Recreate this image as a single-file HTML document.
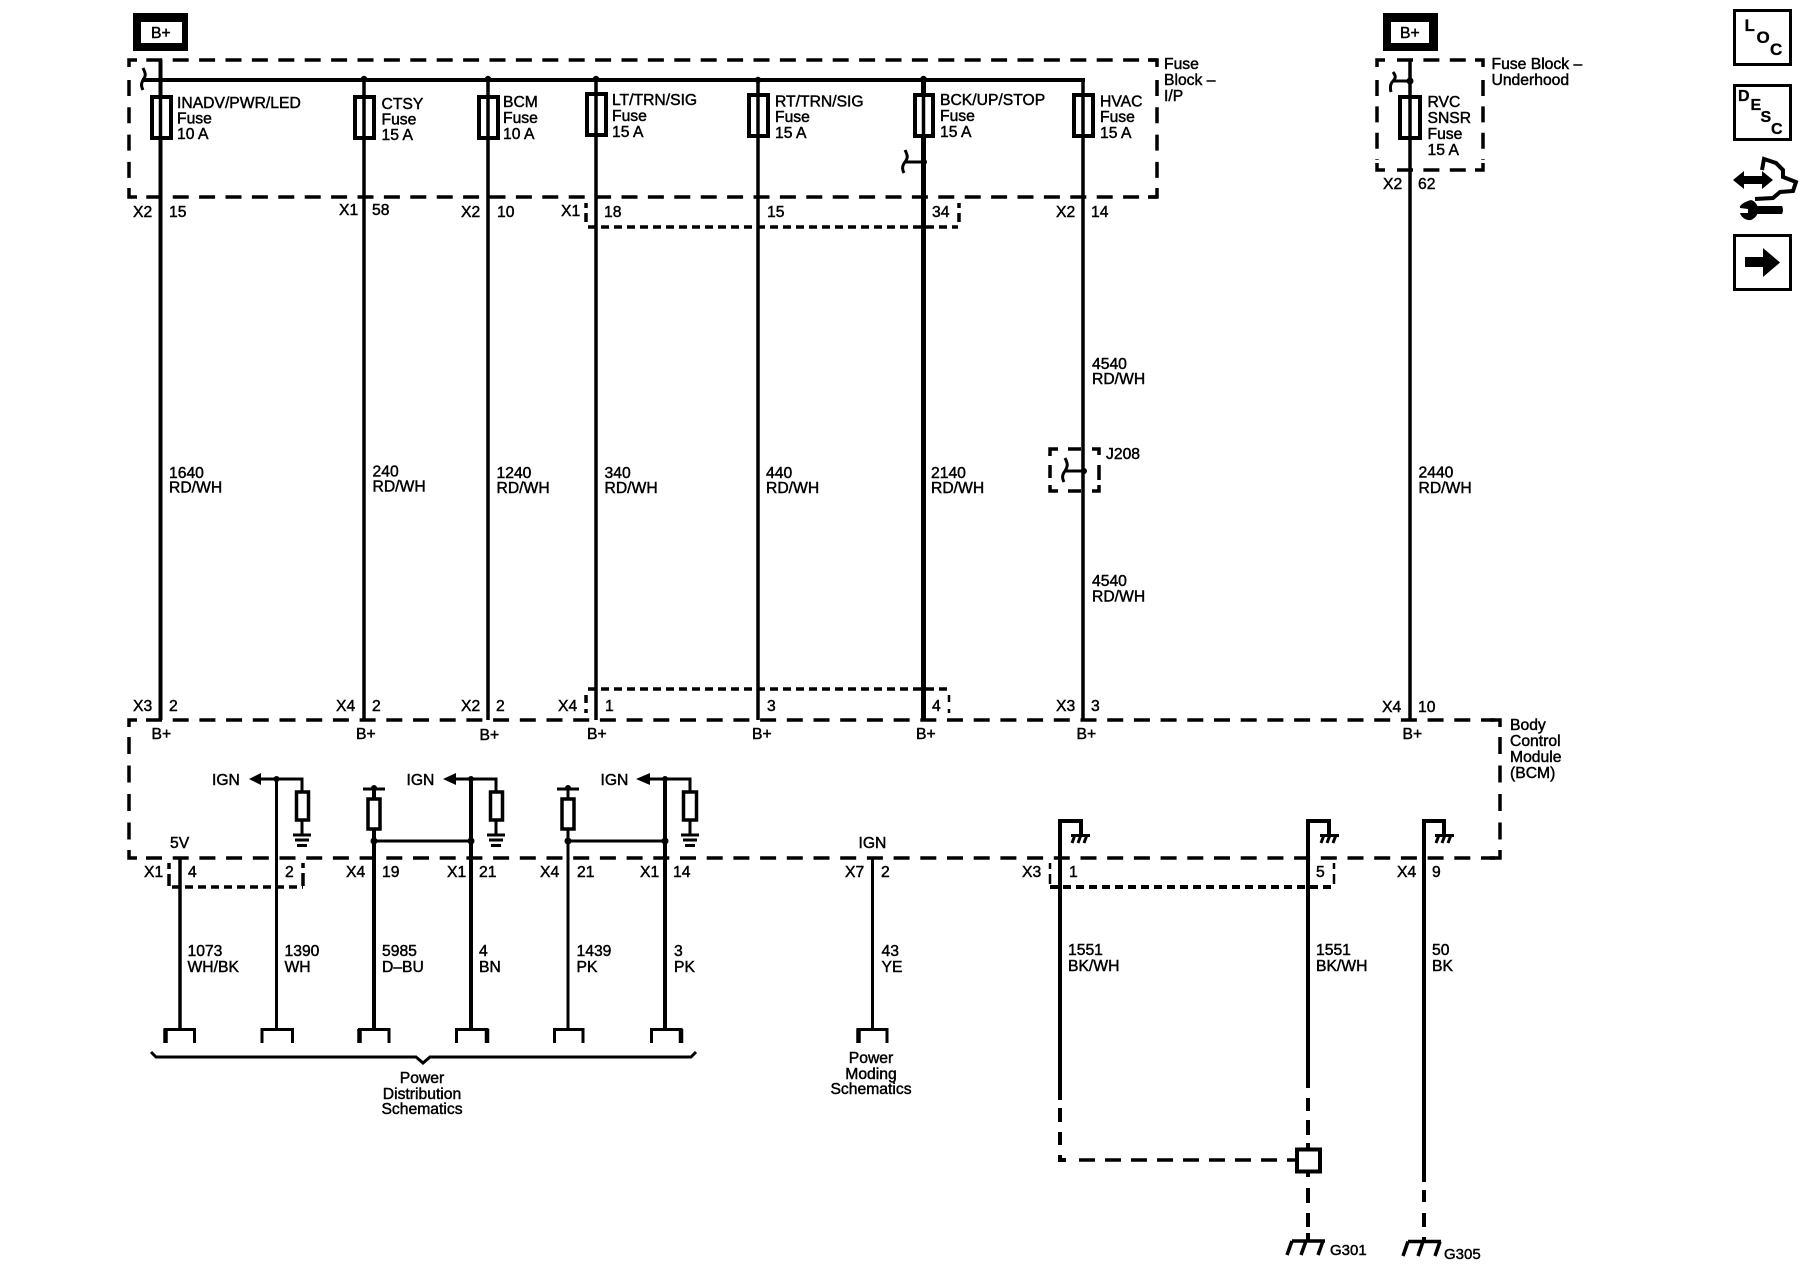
<!DOCTYPE html>
<html><head><meta charset="utf-8"><style>
html,body{margin:0;padding:0;background:#fff}
svg{display:block}
text{font-family:"Liberation Sans",sans-serif;font-size:15.7px;fill:#000;stroke:#000;stroke-width:.45}
.w{fill:none;stroke:#000;stroke-width:3.5}
.d{fill:none;stroke:#000;stroke-width:3.5;stroke-dasharray:16 10.4}
.i{fill:none;stroke:#000;stroke-width:3.5;stroke-dasharray:8 5}
.f{fill:#fff;stroke:#000;stroke-width:4}
.c{fill:none;stroke:#000;stroke-width:3}
.m text{font-weight:bold;stroke-width:.3;font-size:16px}
.mid{text-anchor:middle}
</style></head><body>
<svg width="1800" height="1280" viewBox="0 0 1800 1280" xmlns="http://www.w3.org/2000/svg">
<rect width="1800" height="1280" fill="#fff"/>

<!-- B+ boxes -->
<rect x="133" y="13" width="55" height="38" fill="#000"/><rect x="141" y="22" width="41" height="21" fill="#fff"/>
<text x="151" y="38">B+</text>
<rect x="1383" y="13" width="55" height="38" fill="#000"/><rect x="1391" y="22" width="38" height="21" fill="#fff"/>
<text x="1400" y="38">B+</text>

<!-- fuse block I/P dashed -->
<g class="d">
<path d="M146.3 60H1157" />
<path d="M146.3 197H1157" />
<path d="M129 80V188" style="stroke-dasharray:16 11.3"/>
<path d="M1157 80V188" style="stroke-dasharray:16 11.3"/>
</g>
<path class="w" d="M137 60H129V67M129 188V197H137M1148 60H1157V67M1157 188V197H1148"/>

<!-- underhood dashed -->
<g class="d">
<path d="M1397 60H1470"/><path d="M1397 170H1470"/>
<path d="M1377 80V160"/><path d="M1483 80V160"/>
</g>
<path class="w" d="M1385 60H1377V67M1377 163V170H1385M1475 60H1483V67M1483 163V170H1475"/>

<!-- top bus -->
<path d="M142 80H1085" stroke="#000" stroke-width="4" fill="none"/>
<path d="M1083 80V720" class="w"/>
<path d="M160.5 60V720" class="w" style="stroke-width:4"/>
<path d="M364 78V720" class="w"/>
<path d="M488 78V720" class="w"/>
<path d="M596 78V720" class="w"/>
<path d="M758 78V720" class="w"/>
<path d="M923.5 78V720" class="w" style="stroke-width:5"/>
<path d="M1410 60V720" class="w"/>
<g fill="#000"><circle cx="160.5" cy="80" r="3"/><circle cx="364" cy="79" r="3.2"/><circle cx="488" cy="79" r="3.2"/><circle cx="596" cy="79" r="3.2"/><circle cx="758" cy="80" r="3.2"/><circle cx="923.5" cy="79" r="3.2"/><circle cx="1410" cy="81" r="3.5"/><circle cx="924" cy="162" r="3"/><circle cx="1084" cy="471" r="3"/></g>

<!-- hooks -->
<path d="M143 68C146 74 146 76 143 80C141 84 141 86 143 90" class="w" style="stroke-width:3"/>
<path d="M1393 72C1396 76 1396 78 1393 81C1390 84 1390 88 1391 92M1393 81H1410" class="w" style="stroke-width:3"/>
<path d="M905 150C908 156 908 158 905 162C902 166 902 169 904 173M905 162H924" class="w" style="stroke-width:3"/>
<path d="M1065 458C1068 464 1068 466 1065 471C1062 475 1062 478 1064 482M1065 471H1084" class="w" style="stroke-width:3"/>

<!-- fuses -->
<g class="f">
<rect x="152" y="97" width="19" height="41"/>
<rect x="355" y="97" width="19" height="41"/>
<rect x="479" y="97" width="19" height="41"/>
<rect x="587" y="94" width="19" height="41"/>
<rect x="749" y="95" width="19" height="41"/>
<rect x="915" y="95" width="18" height="41"/>
<rect x="1074" y="95" width="19" height="41"/>
<rect x="1400" y="97" width="20" height="41"/>
</g>
<g class="w"><path d="M160.5 95V140M364 95V140M488 95V140M596 92V137M758 93V138M923.5 93V138M1083 93V138M1410 95V140"/></g>

<!-- fuse labels -->
<text x="177" y="108">INADV/PWR/LED</text><text x="177" y="123.5">Fuse</text><text x="177" y="139">10 A</text>
<text x="381.5" y="109">CTSY</text><text x="381.5" y="124.5">Fuse</text><text x="381.5" y="140">15 A</text>
<text x="503" y="107">BCM</text><text x="503" y="123">Fuse</text><text x="503" y="139">10 A</text>
<text x="612" y="105">LT/TRN/SIG</text><text x="612" y="121">Fuse</text><text x="612" y="137">15 A</text>
<text x="775" y="106.5">RT/TRN/SIG</text><text x="775" y="122">Fuse</text><text x="775" y="138">15 A</text>
<text x="940" y="105">BCK/UP/STOP</text><text x="940" y="121">Fuse</text><text x="940" y="137">15 A</text>
<text x="1100" y="106.5">HVAC</text><text x="1100" y="122">Fuse</text><text x="1100" y="138">15 A</text>
<text x="1164" y="69">Fuse</text><text x="1164" y="85">Block –</text><text x="1164" y="101">I/P</text>
<text x="1427.5" y="107">RVC</text><text x="1427.5" y="123">SNSR</text><text x="1427.5" y="139">Fuse</text><text x="1427.5" y="155">15 A</text>
<text x="1491.5" y="69">Fuse Block –</text><text x="1491.5" y="85">Underhood</text>

<!-- pin labels upper -->
<text x="133" y="217">X2</text><text x="169" y="217">15</text>
<text x="339" y="215">X1</text><text x="372" y="215">58</text>
<text x="461" y="217">X2</text><text x="497" y="217">10</text>
<text x="561" y="216">X1</text><text x="604" y="217">18</text>
<text x="767" y="217">15</text><text x="932" y="217">34</text>
<text x="1056" y="217">X2</text><text x="1091" y="217">14</text>
<text x="1383" y="189">X2</text><text x="1418" y="189">62</text>

<!-- interconnect upper -->
<path class="i" d="M588 227H958"/>
<path class="w" d="M586 203V208M586 213V222M959 203V208M959 213V222"/>
<path class="i" d="M588 689H950"/>
<path class="w" d="M586 695V703M586 709V713" />
<path class="w" style="stroke-width:2.5" d="M949 695V702M949 709V713"/>

<!-- wire labels -->
<text x="169" y="478">1640</text><text x="169" y="492.5">RD/WH</text>
<text x="372.5" y="476.5">240</text><text x="372.5" y="491.5">RD/WH</text>
<text x="496.5" y="478">1240</text><text x="496.5" y="493">RD/WH</text>
<text x="604.5" y="478">340</text><text x="604.5" y="493">RD/WH</text>
<text x="766" y="478">440</text><text x="766" y="493">RD/WH</text>
<text x="931" y="478">2140</text><text x="931" y="493">RD/WH</text>
<text x="1092" y="369">4540</text><text x="1092" y="384">RD/WH</text>
<text x="1092" y="586">4540</text><text x="1092" y="601.5">RD/WH</text>
<text x="1418.5" y="477.5">2440</text><text x="1418.5" y="493">RD/WH</text>
<text x="1106" y="459">J208</text>

<!-- J208 box -->
<path class="w" d="M1050 456V449H1058M1068 449H1081M1092 449H1099V455M1099 465V480M1050 465V478M1050 485V491H1058M1068 491H1081M1092 491H1099V485" />

<!-- pin labels lower-top -->
<text x="133" y="711">X3</text><text x="169" y="711">2</text>
<text x="336" y="711">X4</text><text x="372" y="711">2</text>
<text x="461" y="711">X2</text><text x="496" y="711">2</text>
<text x="558" y="711">X4</text><text x="605" y="711">1</text>
<text x="767" y="711">3</text><text x="932" y="711">4</text>
<text x="1056" y="711">X3</text><text x="1091" y="711">3</text>
<text x="1382" y="712">X4</text><text x="1418" y="712">10</text>

<!-- BCM dashed -->
<g class="d">
<path d="M146 720H1495" style="stroke-dasharray:16 10.7"/>
<path d="M146 858H1495" style="stroke-dasharray:16 10.7"/>
<path d="M129 737V845" style="stroke-dasharray:17 11.5"/>
<path d="M1500 737V845" style="stroke-dasharray:17 11.5"/>
</g>
<path class="w" d="M137 720H129V727M129 850V858H137M1490 720H1500V727M1500 850V858H1490"/>

<!-- B+ labels -->
<text x="151.5" y="739">B+</text><text x="356" y="739">B+</text><text x="479.5" y="740">B+</text><text x="587" y="739">B+</text><text x="752" y="739">B+</text><text x="916" y="739">B+</text><text x="1076.5" y="739">B+</text><text x="1402.5" y="739">B+</text>

<!-- BCM labels -->
<text x="1510" y="730">Body</text><text x="1510" y="746">Control</text><text x="1510" y="762">Module</text><text x="1510" y="778">(BCM)</text>

<!-- IGN groups -->
<text x="212" y="785">IGN</text><text x="406.5" y="785">IGN</text><text x="600.5" y="785">IGN</text>
<g fill="#000"><path d="M249 779L261 773V785Z"/><path d="M443 779L456 773V785Z"/><path d="M636 779L650 773V785Z"/></g>
<path class="w" style="stroke-width:3" d="M258 779H302V791M453 779H496V791M647 779H690V791"/>
<g class="w" style="stroke-width:3.5">
<path d="M180 858V1028"/>
<path d="M276.5 779V1028" style="stroke-width:3"/>
<path d="M374 790V1028" style="stroke-width:4"/>
<path d="M471 779V1028" style="stroke-width:4"/>
<path d="M568 790V1028" style="stroke-width:3"/>
<path d="M665 779V1028" style="stroke-width:4"/>
<path d="M872.5 858V1028" style="stroke-width:3"/>
</g>
<!-- resistors -->
<g class="f" style="stroke-width:3.5">
<rect x="296.5" y="792" width="12" height="28"/>
<rect x="490.5" y="792" width="12" height="28"/>
<rect x="683.5" y="792" width="13" height="28"/>
<rect x="368" y="799" width="12" height="30"/>
<rect x="562" y="799" width="12" height="30"/>
</g>
<path class="w" style="stroke-width:3" d="M302 820V835M496 820V835M690 820V835M363 789H385M557 789H579M374 841H471M568 841H665" />
<g fill="#000"><circle cx="276.5" cy="779" r="3"/><circle cx="471" cy="779" r="3"/><circle cx="665" cy="779" r="3"/><circle cx="374" cy="788" r="3"/><circle cx="568" cy="788" r="3"/><circle cx="374" cy="841" r="3.5"/><circle cx="471" cy="841" r="3.5"/><circle cx="568" cy="841" r="3.5"/><circle cx="665" cy="841" r="3.5"/></g>
<!-- grounds -->
<g class="w" style="stroke-width:3">
<path d="M293 835H311M295 840H309M297 845.5H307"/>
<path d="M487 835H505M489 840H503M491 845.5H501"/>
<path d="M681 835H699M683 840H697M685 845.5H695"/>
</g>
<text x="170" y="848">5V</text><text x="858.5" y="848">IGN</text>

<!-- interconnect lower -->
<path class="i" d="M172 887H303"/>
<path class="w" d="M169 863V869M169 874V886M303 863V868M303 873V886"/>
<path class="i" d="M1050 887H1334" style="stroke-width:4"/>
<path class="w" style="stroke-width:2.5" d="M1050 863V869M1050 874V884M1334 863V869M1334 874V884"/>

<!-- pin labels lower -->
<text x="144" y="877">X1</text><text x="188" y="877">4</text><text x="285" y="877">2</text>
<text x="346" y="877">X4</text><text x="382" y="877">19</text>
<text x="447" y="877">X1</text><text x="479" y="877">21</text>
<text x="540" y="877">X4</text><text x="577" y="877">21</text>
<text x="640" y="877">X1</text><text x="673" y="877">14</text>
<text x="845" y="877">X7</text><text x="881" y="877">2</text>
<text x="1022" y="877">X3</text><text x="1069" y="877">1</text><text x="1316" y="877">5</text>
<text x="1397" y="877">X4</text><text x="1432" y="877">9</text>

<!-- lower wire labels -->
<text x="187.5" y="956">1073</text><text x="187.5" y="972">WH/BK</text>
<text x="284.5" y="956">1390</text><text x="284.5" y="972">WH</text>
<text x="382" y="956">5985</text><text x="382" y="972">D–BU</text>
<text x="479" y="956">4</text><text x="479" y="972">BN</text>
<text x="576.5" y="956">1439</text><text x="576.5" y="972">PK</text>
<text x="674" y="956">3</text><text x="674" y="972">PK</text>
<text x="881.5" y="956">43</text><text x="881.5" y="972">YE</text>
<text x="1068" y="955">1551</text><text x="1068" y="971">BK/WH</text>
<text x="1316" y="955">1551</text><text x="1316" y="971">BK/WH</text>
<text x="1432" y="955">50</text><text x="1432" y="971">BK</text>

<!-- connectors -->
<g class="c">
<path d="M165 1043V1029.5H194.5V1043M262 1043V1029.5H292.5V1043M359.5 1043V1029.5H389V1043M456.5 1043V1029.5H487V1043M554.5 1043V1029.5H583V1043M651.5 1043V1029.5H681V1043M858 1043V1029.5H887V1043"/>
<path style="stroke-width:4.5" d="M165.5 1029V1043M359.5 1029V1043M487 1029V1043M681 1029V1043M858.5 1029V1043"/>
</g>
<!-- brace -->
<path d="M151 1052L156 1057H416L423 1063L430 1057H691L696 1052" class="w" style="stroke-width:3"/>
<text class="mid" x="422" y="1083">Power</text><text class="mid" x="422" y="1099">Distribution</text><text class="mid" x="422" y="1114">Schematics</text>
<text class="mid" x="871" y="1063">Power</text><text class="mid" x="871" y="1079">Moding</text><text class="mid" x="871" y="1094">Schematics</text>

<!-- ground stubs -->
<path class="w" style="stroke-width:4" d="M1060 1100V821H1081V835M1308 1088V821H1329V835M1424 1182V821H1444V835"/>
<path class="w" style="stroke-width:3" d="M1071 835.5H1090M1075 835L1072 843M1081 835L1078 843M1087 835L1084 843M1320 835.5H1339M1324 835L1321 843M1330 835L1327 843M1336 835L1333 843M1435 835.5H1454M1439 835L1436 843M1445 835L1442 843M1451 835L1448 843"/>

<!-- lower dashed -->
<path class="w" style="stroke-width:4" d="M1060 1108V1122M1060 1132V1145M1060 1155V1160H1066M1308 1098V1111M1308 1120V1135M1308 1143V1148M1308 1172V1177M1308 1188V1203M1308 1213V1227M1308 1233V1241M1424 1190V1202M1424 1213V1227M1424 1237V1241"/>
<path class="w" style="stroke-width:3.5;stroke-dasharray:16 10" d="M1079 1160H1296"/>
<rect x="1297" y="1149.5" width="23" height="22" fill="#fff" stroke="#000" stroke-width="4"/>
<!-- chassis grounds -->
<path class="w" style="stroke-width:3.5" d="M1292 1241H1325M1292 1241L1287 1255M1306 1241L1301 1255M1323 1241L1318 1255M1408 1241.5H1441M1408 1241.5L1403 1256M1423 1241.5L1418 1256M1440 1241.5L1435 1256"/>
<text x="1330" y="1255" style="font-size:15px">G301</text>
<text x="1444" y="1259" style="font-size:15px">G305</text>

<!-- side icons -->
<rect x="1734.5" y="10.5" width="56" height="54" fill="none" stroke="#000" stroke-width="3"/>
<rect x="1734.5" y="85.5" width="56" height="54" fill="none" stroke="#000" stroke-width="3"/>
<rect x="1734.5" y="235.5" width="56" height="54" fill="none" stroke="#000" stroke-width="3"/>
<g class="m">
<text x="1744.5" y="31" style="font-size:17px">L</text><text x="1756.5" y="43" style="font-size:17px">O</text><text x="1770" y="55" style="font-size:17px">C</text>
<text x="1738" y="101">D</text><text x="1750.5" y="110">E</text><text x="1760.5" y="122">S</text><text x="1771" y="134">C</text>
</g>
<path d="M1745 257H1763V248L1780 262.5L1763 277V267H1745Z" fill="#000"/>
<path d="M1733 180L1744 171V176H1762V171L1773 180L1762 189V184H1744V189Z" fill="#000"/>
<path d="M1762 170L1764 159L1776 163L1783 170L1783 177L1796 182L1793 191L1780 192L1773 198L1755 199" fill="none" stroke="#000" stroke-width="4"/>
<path d="M1755 206H1782Q1784 210 1782 214H1755Z" fill="#000"/>
<path d="M1751 200C1743 202 1739 206 1740 208L1748 209L1748 213L1740 213C1741 217 1746 221 1751 220C1756 218 1758 214 1758 210C1758 205 1755 201 1751 200Z" fill="#000"/>
</svg>
</body></html>
